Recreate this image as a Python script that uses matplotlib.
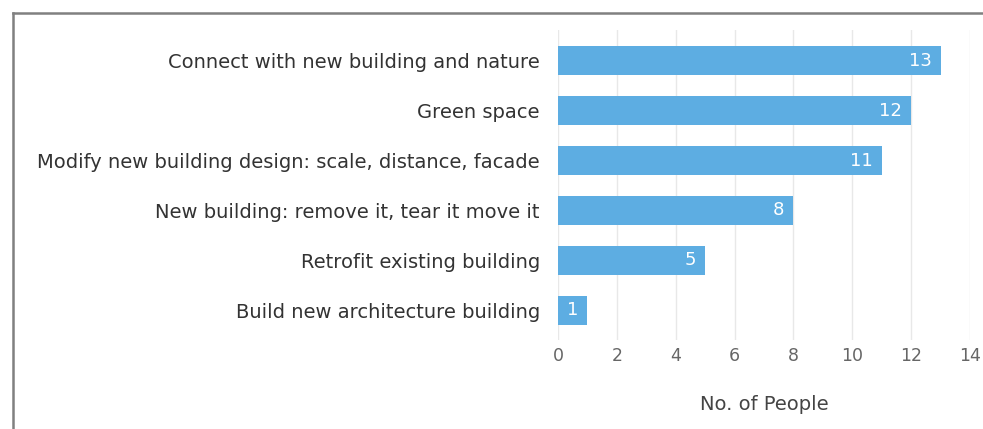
import matplotlib
matplotlib.use("Agg")
import matplotlib.pyplot as plt
from matplotlib.lines import Line2D

categories = [
    "Connect with new building and nature",
    "Green space",
    "Modify new building design: scale, distance, facade",
    "New building: remove it, tear it move it",
    "Retrofit existing building",
    "Build new architecture building",
]
counts = [13, 12, 11, 8, 5, 1]
xticks = [0, 2, 4, 6, 8, 10, 12, 14]

plt.rcParams["font.family"] = ["DejaVu Sans"]

fig = plt.figure(figsize=(9.83, 4.29), dpi=100)
ax = fig.add_axes([558 / 983, 1 - 340 / 429, (970 - 558) / 983, (340 - 30) / 429])

pos = list(range(len(categories)))
ax.barh(pos, counts, height=0.58, color="#5dade2", zorder=2)
for y, v in zip(pos, counts):
    ax.text(v - 0.3, y, str(v), ha="right", va="center", color="white",
            fontsize=13, zorder=3)

ax.set_xlim(0, 14)
ax.set_ylim(len(categories) - 0.4, -0.62)
ax.set_xticks(xticks)
ax.set_yticks(pos)
ax.set_yticklabels(categories, fontsize=14, color="#333333")
ax.tick_params(axis="y", length=0, pad=13)
ax.tick_params(axis="x", length=0, pad=5, labelsize=12.5, labelcolor="#666666")
ax.grid(axis="x", color="#e8e8e8", linewidth=1, zorder=0)
for s in ax.spines.values():
    s.set_visible(False)
ax.set_xlabel("No. of People", fontsize=14, color="#444444", labelpad=22)

# outer frame lines (top and left)
fig.add_artist(Line2D([13 / 983, 1], [1 - 13 / 429, 1 - 13 / 429],
                      transform=fig.transFigure, color="#808080", linewidth=1.8))
fig.add_artist(Line2D([13 / 983, 13 / 983], [0, 1 - 13 / 429],
                      transform=fig.transFigure, color="#808080", linewidth=1.8))

fig.savefig("out.png", dpi=100)
